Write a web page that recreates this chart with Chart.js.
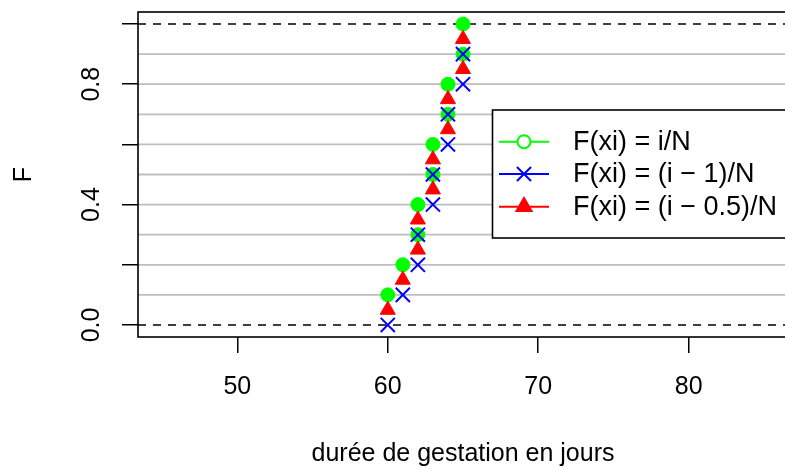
<!DOCTYPE html>
<html>
<head>
<meta charset="utf-8">
<script src="https://cdn.jsdelivr.net/npm/chart.js@4/dist/chart.umd.min.js"></script>
<style>
  html, body { margin: 0; padding: 0; overflow: hidden; background: #fff; width: 785px; height: 470px; }
  #wrap { width: 800px; height: 470px; }
</style>
</head>
<body>
<div id="wrap"><canvas id="c" width="800" height="470"></canvas></div>
<script>
// Observed gestation durations (sorted) and the three plotting-position estimates of F
const durees = [60, 61, 62, 62, 63, 63, 64, 64, 65, 65];
const fI     = [0.1, 0.2, 0.3, 0.4, 0.5, 0.6, 0.7, 0.8, 0.9, 1.0];      // i/N
const fIm1   = [0.0, 0.1, 0.2, 0.3, 0.4, 0.5, 0.6, 0.7, 0.8, 0.9];      // (i-1)/N
const fImid  = [0.05, 0.15, 0.25, 0.35, 0.45, 0.55, 0.65, 0.75, 0.85, 0.95]; // (i-0.5)/N
const seriesLabels = ['F(xi) = i/N', 'F(xi) = (i \u2212 1)/N', 'F(xi) = (i \u2212 0.5)/N'];

const xTicks = [50, 60, 70, 80];
const yTicks = [0, 0.2, 0.4, 0.6, 0.8, 1.0];
const yTickLabels = ['0.0', '', '0.4', '', '0.8', ''];
const greyLevels = [0.1, 0.2, 0.3, 0.4, 0.5, 0.6, 0.7, 0.8, 0.9];
const dashedLevels = [0, 1];

const FONT = '"Liberation Sans", Arial, Helvetica, sans-serif';
const FS = 25;
const LEGEND_FS = 27;

const toPts = (ys) => durees.map((x, i) => ({ x: x, y: ys[i] }));

// Reference lines and frame, drawn underneath the points
const underlay = {
  id: 'underlay',
  beforeDatasetsDraw(chart) {
    const { ctx, chartArea: a, scales: { y } } = chart;
    ctx.save();
    ctx.strokeStyle = '#bebebe';
    ctx.lineWidth = 1.8;
    greyLevels.forEach(v => {
      const py = y.getPixelForValue(v);
      ctx.beginPath(); ctx.moveTo(a.left, py); ctx.lineTo(a.right, py); ctx.stroke();
    });
    ctx.strokeStyle = '#000';
    ctx.lineWidth = 1.5;
    ctx.setLineDash([8, 7]);
    dashedLevels.forEach(v => {
      const py = y.getPixelForValue(v);
      ctx.beginPath(); ctx.moveTo(a.left, py); ctx.lineTo(a.right, py); ctx.stroke();
    });
    ctx.setLineDash([]);
    ctx.lineWidth = 1.6;
    ctx.strokeRect(a.left, a.top, a.right - a.left, a.bottom - a.top);
    ctx.restore();
  }
};

// Rotated y tick labels and the legend box
const overlay = {
  id: 'overlay',
  afterDraw(chart) {
    const { ctx, scales: { y } } = chart;
    ctx.save();
    ctx.fillStyle = '#000';
    ctx.font = FS + 'px ' + FONT;
    ctx.textAlign = 'center';
    ctx.textBaseline = 'alphabetic';
    yTicks.forEach((v, i) => {
      if (!yTickLabels[i]) return;
      ctx.save();
      ctx.translate(99, y.getPixelForValue(v));
      ctx.rotate(-Math.PI / 2);
      ctx.fillText(yTickLabels[i], 0, 0);
      ctx.restore();
    });

    // legend
    const bx = 492.5, by = 110, bw = 320, bh = 128;
    ctx.fillStyle = '#fff';
    ctx.fillRect(bx, by, bw, bh);
    ctx.strokeStyle = '#000';
    ctx.lineWidth = 1.6;
    ctx.strokeRect(bx, by, bw, bh);
    const rows = [141.7, 174, 206.7];
    chart.data.datasets.forEach((ds, r) => {
      const cy = rows[r];
      ctx.strokeStyle = ds.borderColor;
      ctx.lineWidth = 2;
      ctx.beginPath(); ctx.moveTo(499, cy); ctx.lineTo(549, cy); ctx.stroke();
      const cx = 524;
      if (ds.pointStyle === 'circle') {
        ctx.fillStyle = '#fff';
        ctx.beginPath(); ctx.arc(cx, cy, 6.5, 0, Math.PI * 2); ctx.fill(); ctx.stroke();
      } else {
        Chart.helpers.drawPoint(ctx, {
          pointStyle: ds.pointStyle, radius: ds.pointRadius, borderWidth: ds.borderWidth, rotation: 0
        }, cx, cy);
        ctx.fillStyle = ds.backgroundColor;
        if (ds.pointStyle === 'triangle') ctx.fill();
      }
      ctx.fillStyle = '#000';
      ctx.textAlign = 'left';
      ctx.textBaseline = 'middle';
      ctx.font = LEGEND_FS + 'px ' + FONT;
      ctx.fillText(ds.label, 573, cy + 1);
    });
    ctx.restore();
  }
};

new Chart(document.getElementById('c'), {
  type: 'scatter',
  data: {
    datasets: [
      { label: seriesLabels[0], data: toPts(fI), pointStyle: 'circle', pointRadius: 7,
        backgroundColor: '#00ff00', borderColor: '#00ff00', borderWidth: 1, order: 3 },
      { label: seriesLabels[1], data: toPts(fIm1), pointStyle: 'crossRot', pointRadius: 10,
        backgroundColor: '#0000ff', borderColor: '#0000ff', borderWidth: 2, order: 2 },
      { label: seriesLabels[2], data: toPts(fImid), pointStyle: 'triangle', pointRadius: 8.7,
        backgroundColor: '#ff0000', borderColor: '#ff0000', borderWidth: 1, order: 1 }
    ]
  },
  options: {
    responsive: false,
    devicePixelRatio: 1,
    animation: false,
    events: [],
    layout: { padding: { left: 0, right: 8.4, top: 11, bottom: 0 } },
    plugins: { legend: { display: false }, tooltip: { enabled: false } },
    scales: {
      x: {
        type: 'linear', min: 43.4, max: 86.6,
        afterBuildTicks: (s) => { s.ticks = xTicks.map(v => ({ value: v })); },
        afterFit: (s) => { s.height = 133; },
        border: { display: false },
        grid: { drawOnChartArea: false, drawTicks: true, tickLength: 16, color: '#000', lineWidth: 1.5 },
        ticks: { color: '#000', font: { family: FONT, size: FS }, padding: 19, maxRotation: 0, autoSkip: false },
        title: { display: true, text: 'durée de gestation en jours', color: '#000',
                 font: { family: FONT, size: FS }, padding: { top: 0, bottom: 1 } }
      },
      y: {
        type: 'linear', min: -0.04, max: 1.04,
        afterBuildTicks: (s) => { s.ticks = yTicks.map(v => ({ value: v })); },
        afterFit: (s) => { s.width = 138; },
        border: { display: false },
        grid: { drawOnChartArea: false, drawTicks: true, tickLength: 16, color: '#000', lineWidth: 1.5 },
        ticks: { display: false },
        title: { display: true, text: 'F', color: '#000',
                 font: { family: FONT, size: FS }, padding: { top: 9, bottom: 0 } }
      }
    }
  },
  plugins: [underlay, overlay]
});
</script>
</body>
</html>
